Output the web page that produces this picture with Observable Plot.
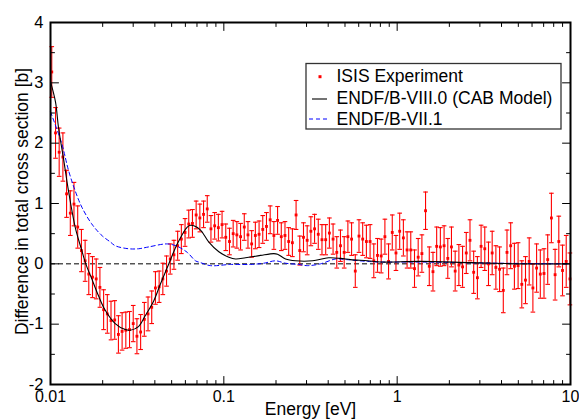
<!DOCTYPE html>
<html><head><meta charset="utf-8">
<script src="https://cdn.jsdelivr.net/npm/d3@7"></script>
<script src="https://cdn.jsdelivr.net/npm/@observablehq/plot@0.6"></script>
<style>
body{margin:0;background:#fff;}
#chart{position:relative;width:579px;height:419px;overflow:hidden;}
</style></head><body><div id="chart"></div>
<script>
// ISIS experiment: energy [eV], difference [b], uncertainty [b]
const energy = [0.01017,0.01069,0.01122,0.01179,0.01238,0.01301,0.01366,0.01435,0.01508,0.01584,
0.01663,0.01747,0.01835,0.01928,0.02025,0.02127,0.02234,0.02347,0.02465,0.02589,
0.02720,0.02857,0.03001,0.03152,0.03311,0.03478,0.03653,0.03837,0.04031,0.04234,
0.04447,0.04671,0.04907,0.05154,0.05414,0.05687,0.05973,0.06274,0.06591,0.06923,
0.07272,0.07638,0.08023,0.08427,0.08852,0.09298,0.09767,0.1026,0.1078,0.1132,
0.1189,0.1249,0.1312,0.1378,0.1447,0.1520,0.1597,0.1677,0.1762,0.1851,
0.1944,0.2042,0.2145,0.2253,0.2366,0.2486,0.2611,0.2742,0.2881,0.3026,
0.3178,0.3338,0.3506,0.3683,0.3869,0.4064,0.4268,0.4483,0.4709,0.4947,
0.5196,0.5458,0.5733,0.6022,0.6325,0.6644,0.6979,0.7331,0.7700,0.8088,
0.8496,0.8920,0.9370,0.9842,1.034,1.086,1.141,1.198,1.259,1.322,
1.389,1.458,1.532,1.609,1.690,1.775,1.865,1.959,2.057,2.161,
2.270,2.384,2.504,2.631,2.763,2.903,3.049,3.202,3.364,3.533,
3.711,3.898,4.095,4.301,4.518,4.746,4.985,5.236,5.500,5.777,
6.068,6.374,6.695,7.033,7.387,7.759,8.150,8.561,8.993,9.446,
9.922];
const diff = [3.18,2.17,1.85,1.77,1.16,0.84,0.99,0.61,0.22,0.05,
-0.17,-0.22,-0.25,-0.39,-0.76,-0.83,-0.94,-0.93,-1.17,-1.12,
-1.10,-1.09,-0.99,-1.20,-1.13,-0.92,-0.83,-0.72,-0.40,-0.38,
-0.25,-0.12,0.08,0.15,0.30,0.41,0.52,0.66,0.67,0.81,
0.76,0.82,0.91,0.58,0.63,0.60,0.65,0.44,0.37,0.50,
0.48,0.45,0.61,0.48,0.33,0.47,0.49,0.57,0.62,0.73,
0.47,0.72,0.45,0.47,0.37,0.35,0.81,0.22,0.44,0.39,
0.54,0.58,0.49,0.40,0.40,0.51,0.41,0.19,0.30,0.19,
0.45,0.41,-0.12,0.46,0.41,0.37,0.37,0.05,0.14,0.13,
0.45,0.04,0.52,0.18,0.54,0.43,0.23,0.23,-0.08,0.11,
0.17,0.88,-0.04,-0.13,0.29,0.28,0.30,0.09,0.28,-0.12,
-0.02,-0.05,0.18,0.39,-0.14,-0.23,0.29,0.25,0.00,0.18,
-0.06,-0.09,-0.44,0.19,0.30,-0.04,-0.03,-0.34,-0.27,0.04,
-0.40,-0.07,-0.17,-0.16,0.07,0.76,-0.18,0.37,-0.11,0.04,
-0.25];
const uncertainty = [0.42,0.42,0.40,0.40,0.39,0.37,0.36,0.35,0.35,0.34,
0.34,0.34,0.33,0.33,0.33,0.32,0.32,0.32,0.31,0.31,
0.30,0.30,0.30,0.29,0.29,0.28,0.28,0.27,0.27,0.26,
0.26,0.25,0.25,0.24,0.24,0.24,0.23,0.23,0.23,0.23,
0.23,0.22,0.22,0.22,0.22,0.22,0.22,0.22,0.22,0.22,
0.22,0.22,0.22,0.22,0.22,0.22,0.22,0.23,0.23,0.23,
0.23,0.23,0.23,0.23,0.23,0.23,0.24,0.24,0.24,0.24,
0.24,0.24,0.25,0.25,0.25,0.25,0.25,0.26,0.26,0.26,
0.26,0.27,0.27,0.27,0.27,0.27,0.28,0.28,0.28,0.28,
0.29,0.29,0.29,0.29,0.30,0.30,0.30,0.30,0.31,0.31,
0.31,0.31,0.32,0.32,0.32,0.32,0.33,0.33,0.33,0.33,
0.34,0.34,0.34,0.34,0.35,0.35,0.35,0.36,0.36,0.36,
0.36,0.37,0.37,0.37,0.38,0.38,0.38,0.39,0.39,0.39,
0.40,0.40,0.40,0.41,0.41,0.41,0.42,0.42,0.42,0.43,
0.43];

// ENDF/B-VIII.0 (CAB Model)
const cabEnergy = [0.01,0.01069,0.01112,0.01189,0.01270,0.01388,0.01516,0.01598,0.01731,0.01892,0.02069,0.02362,0.02698,0.02884,0.03220,0.03519,0.03946,0.04313,0.04816,0.05384,0.06150,0.06427,0.06714,0.07337,0.08194,0.09358,0.1069,0.1168,0.1334,0.1628,0.1944,0.2041,0.2270,0.2593,0.3250,0.4020,0.4714,0.5384,0.6749,0.8024,1.365,2.652,5.152,10];
const cabDiff = [3.02,2.68,2.26,1.74,1.21,0.61,0.22,0.00,-0.25,-0.53,-0.77,-0.99,-1.09,-1.10,-1.04,-0.86,-0.61,-0.33,0.00,0.33,0.61,0.64,0.63,0.56,0.36,0.20,0.11,0.08,0.10,0.14,0.17,0.16,0.08,0.05,0.05,0.10,0.09,0.07,0.05,0.03,0.04,0.02,0.00,0.00];

// ENDF/B-VII.1
const b71Energy = [0.01,0.01162,0.01270,0.01388,0.01516,0.01731,0.01977,0.02220,0.02362,0.02819,0.03220,0.03678,0.04715,0.05384,0.06150,0.06867,0.07337,0.08380,0.1093,0.1426,0.1702,0.1988,0.2270,0.2698,0.3041,0.3614,0.4411,0.5105,0.6749,0.8024,1.365,3.951,10];
const b71Diff = [2.52,1.99,1.55,1.21,0.94,0.66,0.47,0.36,0.30,0.25,0.25,0.28,0.33,0.29,0.19,0.05,0.02,-0.03,-0.01,-0.01,0.01,0.05,0.01,-0.01,-0.03,0.00,0.08,0.07,0.04,0.03,0.03,0.01,0.00];

const xMajorTicks = [0.01, 0.1, 1, 10];
const xMinorTicks = [0.02,0.03,0.04,0.05,0.06,0.07,0.08,0.09,0.2,0.3,0.4,0.5,0.6,0.7,0.8,0.9,2,3,4,5,6,7,8,9];
const yMajorTicks = [-2, -1, 0, 1, 2, 3, 4];
const yMinorTicks = [-1.5, -0.5, 0.5, 1.5, 2.5, 3.5];
const zeroLine = [0];
const xTitle = ["Energy [eV]"];
const yTitle = ["Difference in total cross section [b]"];
const legendLabels = ["ISIS Experiment", "ENDF/B-VIII.0 (CAB Model)", "ENDF/B-VII.1"];

const points = energy.map((e, i) => ({e, v: diff[i], lo: diff[i] - uncertainty[i], hi: diff[i] + uncertainty[i]}));
const cab = cabEnergy.map((e, i) => ({e, v: cabDiff[i]}));
const b71 = b71Energy.map((e, i) => ({e, v: b71Diff[i]}));

const tickShape = {draw(ctx, l) { ctx.moveTo(0, 0); ctx.lineTo(0, -l); }};
const capSymbol = {draw(ctx, size) { const r = Math.sqrt(size / Math.PI); ctx.moveTo(-r, 0); ctx.lineTo(r, 0); }};

function xTicks(values, anchor, len) {
  return Plot.vector(values, {x: d => d, frameAnchor: anchor, rotate: anchor === "bottom" ? 0 : 180,
    length: len, anchor: "start", shape: tickShape, stroke: "black", strokeWidth: 1});
}
function yTicks(values, anchor, len) {
  return Plot.vector(values, {y: d => d, frameAnchor: anchor, rotate: anchor === "left" ? 90 : -90,
    length: len, anchor: "start", shape: tickShape, stroke: "black", strokeWidth: 1});
}

const font = "'Liberation Sans', Arial, Helvetica, sans-serif";
const red = "#ff0000";

const chart = Plot.plot({
  width: 579, height: 419,
  marginLeft: 50, marginRight: 9, marginTop: 22, marginBottom: 35,
  style: {fontFamily: font, background: "white", color: "black"},
  x: {type: "log", domain: [0.01, 10], axis: null},
  y: {domain: [-2, 4], axis: null},
  marks: [
    Plot.ruleY(zeroLine, {stroke: "black", strokeWidth: 1, strokeDasharray: "5,3"}),
    Plot.ruleX(points, {x: "e", y1: "lo", y2: "hi", stroke: red, strokeWidth: 1.1}),
    Plot.dot(points, {x: "e", y: "lo", symbol: capSymbol, r: 2.3, stroke: red, strokeWidth: 1.1, fill: "none"}),
    Plot.dot(points, {x: "e", y: "hi", symbol: capSymbol, r: 2.3, stroke: red, strokeWidth: 1.1, fill: "none"}),
    Plot.dot(points, {x: "e", y: "v", symbol: "square", r: 1.6, fill: red, stroke: "none"}),
    Plot.line(b71, {x: "e", y: "v", stroke: "#0000ff", strokeWidth: 1, strokeDasharray: "4,3", curve: "catmull-rom"}),
    Plot.line(cab, {x: "e", y: "v", stroke: "black", strokeWidth: 1.1, curve: "catmull-rom"}),
    xTicks(xMajorTicks, "bottom", 8), xTicks(xMinorTicks, "bottom", 4),
    xTicks(xMajorTicks, "top", 8), xTicks(xMinorTicks, "top", 4),
    yTicks(yMajorTicks, "left", 8), yTicks(yMinorTicks, "left", 4),
    yTicks(yMajorTicks, "right", 8), yTicks(yMinorTicks, "right", 4),
    Plot.frame({stroke: "black", strokeWidth: 2}),
    Plot.axisX(xMajorTicks, {anchor: "bottom", tickSize: 0, tickPadding: 6, tickFormat: d => String(d), fontSize: 16, label: null}),
    Plot.axisY(yMajorTicks, {anchor: "left", tickSize: 0, tickPadding: 7, tickFormat: d => String(d), fontSize: 16.5, label: null}),
    Plot.text(xTitle, {text: d => d, frameAnchor: "bottom", textAnchor: "middle", dy: 18, lineAnchor: "top", fontSize: 17.5}),
    Plot.text(yTitle, {text: d => d, frameAnchor: "left", textAnchor: "middle", lineAnchor: "middle", rotate: -90, dx: -28.5, dy: -2, fontSize: 17.5})
  ]
});
document.getElementById("chart").appendChild(chart);

// legend
const svg = d3.select(chart);
const lg = svg.append("g").attr("font-family", font).attr("font-size", 17.5).attr("text-anchor", "start");
lg.append("rect").attr("x", 306).attr("y", 63.5).attr("width", 255).attr("height", 65.5)
  .attr("fill", "white").attr("stroke", "#333").attr("stroke-width", 1.3);
const symbolY = [76.7, 99, 119];
const textY = [75.6, 97.8, 118.2];
lg.append("rect").attr("x", 318.5).attr("y", symbolY[0] - 1.5).attr("width", 3).attr("height", 3).attr("fill", red);
lg.append("line").attr("x1", 312).attr("x2", 327).attr("y1", symbolY[1]).attr("y2", symbolY[1]).attr("stroke", "black").attr("stroke-width", 1.1);
lg.append("line").attr("x1", 309).attr("x2", 329).attr("y1", symbolY[2]).attr("y2", symbolY[2]).attr("stroke", "#0000ff").attr("stroke-width", 1).attr("stroke-dasharray", "4,3");
legendLabels.forEach((t, i) => {
  lg.append("text").attr("x", 336.5).attr("y", textY[i]).attr("dy", "0.36em").attr("text-anchor", "start").text(t);
});
</script></body></html>
